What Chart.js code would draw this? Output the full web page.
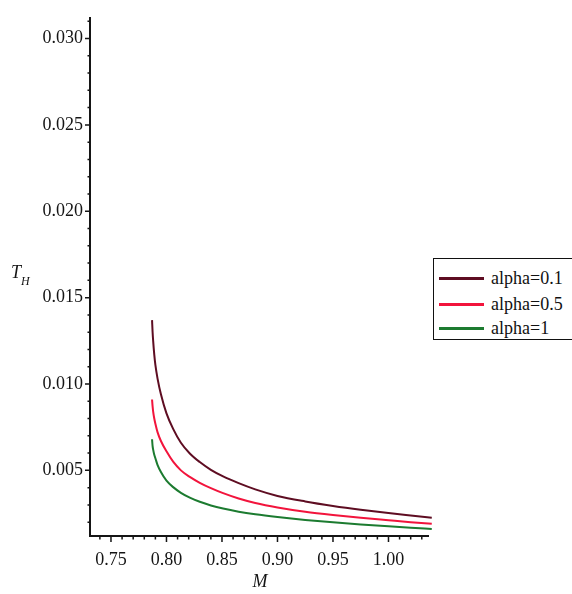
<!DOCTYPE html>
<html>
<head>
<meta charset="utf-8">
<script src="https://cdn.jsdelivr.net/npm/chart.js@4.4.1/dist/chart.umd.min.js"></script>
<style>
  html, body { margin: 0; padding: 0; background: #fff; }
  #wrap { position: relative; width: 572px; height: 594px; overflow: hidden; }
  #legend {
    position: absolute; left: 433px; top: 258px; width: 150px; height: 82px;
    border: 1.5px solid #111; box-sizing: border-box; background: #fff;
    font: 18px "Liberation Serif", "Times New Roman", serif; color: #111;
  }
  .row { position: absolute; left: 0; height: 22px; display: flex; align-items: center; white-space: nowrap; }
  .swatch { width: 45px; height: 3px; margin-left: 5px; margin-right: 7px; }
</style>
</head>
<body>
<div id="wrap">
  <canvas id="c" width="572" height="594"></canvas>
  <div id="legend"></div>
</div>
<script>
// Black hole mass M and Hawking temperature T_H for three alpha values
const massValues  = [0.787, 0.7875, 0.788, 0.789, 0.790, 0.792, 0.795, 0.800, 0.806, 0.813, 0.821, 0.830, 0.840, 0.851, 0.865, 0.880, 0.900, 0.925, 0.950, 0.975, 1.000, 1.020, 1.039];
const tempAlpha01 = [0.0137, 0.0130, 0.0125, 0.0117, 0.0111, 0.0103, 0.0094, 0.0083, 0.0074, 0.0066, 0.00598, 0.00548, 0.00503, 0.00465, 0.00426, 0.0039, 0.00352, 0.00320, 0.00294, 0.00272, 0.00253, 0.00239, 0.00226];
const tempAlpha05 = [0.0091, 0.0087, 0.0084, 0.0080, 0.0077, 0.0072, 0.0067, 0.0061, 0.0055, 0.0050, 0.00462, 0.00428, 0.00397, 0.00368, 0.00337, 0.00311, 0.00285, 0.00260, 0.00241, 0.00225, 0.00211, 0.00200, 0.00191];
const tempAlpha1  = [0.0068, 0.0064, 0.0062, 0.0059, 0.0057, 0.0053, 0.0049, 0.0044, 0.00403, 0.00370, 0.00342, 0.00318, 0.00297, 0.00279, 0.00261, 0.00246, 0.00230, 0.00213, 0.00199, 0.00187, 0.00176, 0.00168, 0.00161];

const seriesLabels = ['alpha=0.1', 'alpha=0.5', 'alpha=1'];
const seriesColors = ['#5e0d22', '#f2143c', '#1c7b30'];

const xTickValues = [0.75, 0.80, 0.85, 0.90, 0.95, 1.00];
const yTickValues = [0.005, 0.010, 0.015, 0.020, 0.025, 0.030];

const serif = '"Liberation Serif", "Times New Roman", serif';
const inkColor = '#151515';

function toPoints(ys) {
  return massValues.map((m, i) => ({ x: m, y: ys[i] }));
}

// Outward major and minor tick marks plus the axis titles
const axisDecor = {
  id: 'axisDecor',
  afterDraw(chart) {
    const ctx = chart.ctx;
    const xs = chart.scales.x, ys = chart.scales.y;
    const area = chart.chartArea;
    ctx.save();
    ctx.strokeStyle = inkColor;
    ctx.lineWidth = 1.5;
    ctx.beginPath();
    // y minor ticks every 0.001, major every 0.005
    for (let k = 2; k <= 31; k++) {
      const v = k / 1000;
      const py = ys.getPixelForValue(v);
      const len = (k % 5 === 0) ? 5 : 2.5;
      ctx.moveTo(area.left, py);
      ctx.lineTo(area.left - len, py);
    }
    // x minor ticks every 0.01, major every 0.05
    for (let k = 74; k <= 103; k++) {
      const v = k / 100;
      const px = xs.getPixelForValue(v);
      const len = (k % 5 === 0) ? 6 : 3.5;
      ctx.moveTo(px, area.bottom);
      ctx.lineTo(px, area.bottom + len);
    }
    ctx.stroke();

    ctx.fillStyle = inkColor;
    ctx.textBaseline = 'alphabetic';
    ctx.textAlign = 'left';
    ctx.font = 'italic 18px ' + serif;
    ctx.fillText('T', 11, 278);
    ctx.font = 'italic 12px ' + serif;
    ctx.fillText('H', 21, 285);
    ctx.font = 'italic 18px ' + serif;
    ctx.textAlign = 'center';
    ctx.fillText('M', 260, 587);
    ctx.restore();
  }
};

const chart = new Chart(document.getElementById('c'), {
  type: 'line',
  data: {
    datasets: [tempAlpha01, tempAlpha05, tempAlpha1].map((ys, i) => ({
      label: seriesLabels[i],
      data: toPoints(ys),
      borderColor: seriesColors[i],
      borderWidth: 2,
      pointRadius: 0,
      fill: false,
      cubicInterpolationMode: 'monotone',
      clip: false
    }))
  },
  options: {
    responsive: false,
    animation: false,
    layout: { padding: { top: 12, right: 144, left: 0, bottom: 0 } },
    plugins: { legend: { display: false }, tooltip: { enabled: false } },
    scales: {
      x: {
        type: 'linear',
        min: 0.7311,
        max: 1.0356,
        afterBuildTicks: s => { s.ticks = xTickValues.map(v => ({ value: v })); },
        afterFit: s => { s.height = 58; },
        ticks: {
          callback: v => v.toFixed(2),
          font: { family: serif, size: 18 },
          color: inkColor,
          padding: 13,
          maxRotation: 0,
          autoSkip: false
        },
        grid: { display: false, drawTicks: false },
        border: { display: true, color: inkColor, width: 2 }
      },
      y: {
        type: 'linear',
        min: 0.0012,
        max: 0.0312,
        afterBuildTicks: s => { s.ticks = yTickValues.map(v => ({ value: v })); },
        afterFit: s => { s.width = 90; },
        ticks: {
          callback: v => v.toFixed(3),
          font: { family: serif, size: 18 },
          color: inkColor,
          padding: 7,
          autoSkip: false
        },
        grid: { display: false, drawTicks: false },
        border: { display: true, color: inkColor, width: 2 }
      }
    }
  },
  plugins: [axisDecor]
});

// Legend built from the dataset labels and colours
const legend = document.getElementById('legend');
const rowCenters = [19, 45, 69];
chart.data.datasets.forEach((ds, i) => {
  const row = document.createElement('div');
  row.className = 'row';
  row.style.top = (rowCenters[i] - 11) + 'px';
  const sw = document.createElement('span');
  sw.className = 'swatch';
  sw.style.background = ds.borderColor;
  const tx = document.createElement('span');
  tx.textContent = ds.label;
  row.appendChild(sw);
  row.appendChild(tx);
  legend.appendChild(row);
});
</script>
</body>
</html>
